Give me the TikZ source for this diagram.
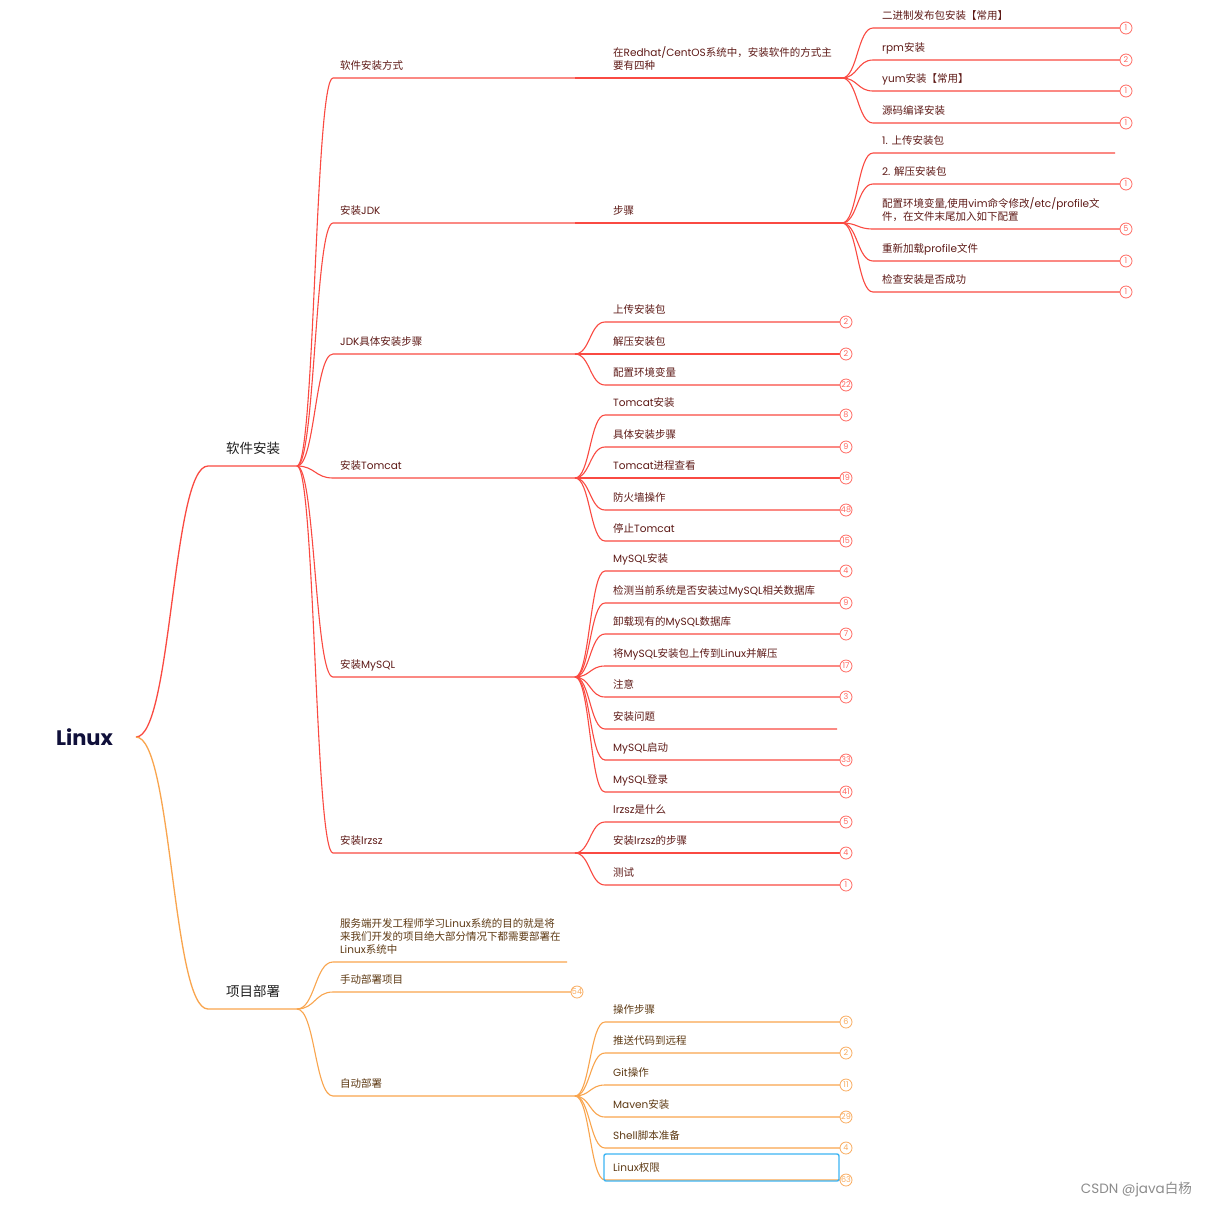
\documentclass[tikz,border=0pt]{standalone}
\usepackage{fontspec}
\setmainfont{Poppins}
\newfontfamily\cjk{Noto Sans CJK SC}
\usetikzlibrary{calc}
\XeTeXinterchartokenstate=1
\newXeTeXintercharclass\cjkcls
\newcount\cjkcnt
\def\setcjkrange#1#2{\cjkcnt=#1\relax\loop\XeTeXcharclass\cjkcnt=\cjkcls\relax\ifnum\cjkcnt<#2\relax\advance\cjkcnt by 1\repeat}
\setcjkrange{"3000}{"303F}
\setcjkrange{"4E00}{"9FFF}
\setcjkrange{"FF00}{"FFEF}
\XeTeXinterchartoks 0 \cjkcls = {\cjk}
\XeTeXinterchartoks 4095 \cjkcls = {\cjk}
\XeTeXinterchartoks \cjkcls 0 = {\rmfamily}
\XeTeXinterchartoks 4095 0 = {\rmfamily}

\definecolor{lred}{HTML}{FA4A42}
\definecolor{tred}{HTML}{5E1A17}
\definecolor{cred}{HTML}{FF6A62}
\definecolor{lora}{HTML}{F9A54E}
\definecolor{tora}{HTML}{5E3A14}
\definecolor{cora}{HTML}{F9AC5E}
\definecolor{selb}{HTML}{3DB5F3}
\definecolor{rootc}{HTML}{10103A}

\tikzset{
  redset/.style={conn/.style={draw=lred,line width=1.1pt},lt/.style={text=tred},cs/.style={draw=cred,text=cred}},
  oraset/.style={conn/.style={draw=lora,line width=1.1pt},lt/.style={text=tora},cs/.style={draw=cora,text=cora}},
  lbl/.style={anchor=south west,inner sep=0pt,text depth=0pt,align=left,font=\fontsize{10.5}{13}\selectfont,lt},
  lone/.style={anchor=south west,inner sep=0pt,text depth=0pt,font=\fontsize{13.5}{16}\selectfont,text=black!88},
  cnt/.style={circle,fill=white,inner sep=0pt,minimum size=12pt,line width=0.8pt,font=\fontsize{8}{8}\selectfont,cs},
  selbox/.style={draw=selb,line width=1.4pt,rounded corners=2pt},
}

\newcommand\branch[3]{\draw[conn] let \p1=(#1),\p2=(#2) in (\p1) .. controls ({(\x1+\x2)/2},\y1) and ({(\x1+\x2)/2},\y2) .. (\p2) -- (#3);}

\newcommand\leaf[8]{%
  \coordinate (#1s) at (#3,#5);
  \coordinate (#1e) at (#4,#5);
  \node[lbl] (#1) at (#6,#5-8) {#7};
  \branch{#2}{#1s}{#1e}%
  \if\relax\detokenize{#8}\relax\else\node[cnt] (#1c) at ($(#1e)+(6,0)$) {#8};\fi}

\begin{document}
\begin{tikzpicture}[x=1pt,y=-1pt]
\fill[white] (0,0) rectangle (1206,1208);
\useasboundingbox (0,0) rectangle (1206,1208);

\node[font=\fontsize{21}{24}\selectfont\bfseries,text=rootc,inner sep=0pt] (root) at (84.5,737) {Linux};
\coordinate (R) at (136,737);

\begin{scope}[redset]
\coordinate (s1s) at (208,466); \coordinate (s1e) at (297,466);
\node[lone] (s1) at (226,454) {软件安装};
\draw[conn,line width=1.3pt] let \p1=(R),\p2=(s1s) in (\p1) .. controls ({(\x1+\x2)/2},\y1) and ({(\x1+\x2)/2},\y2) .. (\p2) -- (s1e);

\leaf{a1}{s1e}{333}{575}{78}{340}{软件安装方式}{}
\leaf{a2}{s1e}{333}{575}{223}{340}{安装JDK}{}
\leaf{a3}{s1e}{333}{575}{354}{340}{JDK具体安装步骤}{}
\leaf{a4}{s1e}{333}{575}{478}{340}{安装Tomcat}{}
\leaf{a5}{s1e}{333}{575}{677}{340}{安装MySQL}{}
\leaf{a6}{s1e}{333}{575}{853}{340}{安装lrzsz}{}

\leaf{b1}{a1e}{605}{842}{78}{613}{在Redhat/CentOS系统中，安装软件的方式主\\要有四种}{}
\leaf{b2}{a2e}{605}{842}{223}{613}{步骤}{}

\leaf{b31}{a3e}{605}{840}{322}{613}{上传安装包}{2}
\leaf{b32}{a3e}{605}{840}{354}{613}{解压安装包}{2}
\leaf{b33}{a3e}{605}{840}{385}{613}{配置环境变量}{22}

\leaf{b41}{a4e}{605}{840}{415}{613}{Tomcat安装}{8}
\leaf{b42}{a4e}{605}{840}{447}{613}{具体安装步骤}{9}
\leaf{b43}{a4e}{605}{840}{478}{613}{Tomcat进程查看}{19}
\leaf{b44}{a4e}{605}{840}{510}{613}{防火墙操作}{48}
\leaf{b45}{a4e}{605}{840}{541}{613}{停止Tomcat}{15}

\leaf{b51}{a5e}{605}{840}{571}{613}{MySQL安装}{4}
\leaf{b52}{a5e}{605}{840}{603}{613}{检测当前系统是否安装过MySQL相关数据库}{9}
\leaf{b53}{a5e}{605}{840}{634}{613}{卸载现有的MySQL数据库}{7}
\leaf{b54}{a5e}{605}{840}{666}{613}{将MySQL安装包上传到Linux并解压}{17}
\leaf{b55}{a5e}{605}{840}{697}{613}{注意}{3}
\leaf{b56}{a5e}{605}{837}{729}{613}{安装问题}{}
\leaf{b57}{a5e}{605}{840}{760}{613}{MySQL启动}{33}
\leaf{b58}{a5e}{605}{840}{792}{613}{MySQL登录}{41}

\leaf{b61}{a6e}{605}{840}{822}{613}{lrzsz是什么}{5}
\leaf{b62}{a6e}{605}{840}{853}{613}{安装lrzsz的步骤}{4}
\leaf{b63}{a6e}{605}{840}{885}{613}{测试}{1}

\leaf{c11}{b1e}{873}{1120}{28}{882}{二进制发布包安装【常用】}{1}
\leaf{c12}{b1e}{873}{1120}{60}{882}{rpm安装}{2}
\leaf{c13}{b1e}{873}{1120}{91}{882}{yum安装【常用】}{1}
\leaf{c14}{b1e}{873}{1120}{123}{882}{源码编译安装}{1}

\leaf{c21}{b2e}{873}{1115}{153}{882}{1. 上传安装包}{}
\leaf{c22}{b2e}{873}{1120}{184}{882}{2. 解压安装包}{1}
\leaf{c23}{b2e}{873}{1120}{229}{882}{配置环境变量,使用vim命令修改/etc/profile文\\件，在文件末尾加入如下配置}{5}
\leaf{c24}{b2e}{873}{1120}{261}{882}{重新加载profile文件}{1}
\leaf{c25}{b2e}{873}{1120}{292}{882}{检查安装是否成功}{1}
\end{scope}

\begin{scope}[oraset]
\coordinate (s2s) at (208,1009); \coordinate (s2e) at (297,1009);
\node[lone] (s2) at (226,997) {项目部署};
\draw[conn,line width=1.3pt] let \p1=(R),\p2=(s2s) in (\p1) .. controls ({(\x1+\x2)/2},\y1) and ({(\x1+\x2)/2},\y2) .. (\p2) -- (s2e);

\leaf{d1}{s2e}{333}{567}{962}{340}{服务端开发工程师学习Linux系统的目的就是将\\来我们开发的项目绝大部分情况下都需要部署在\\Linux系统中}{}
\leaf{d2}{s2e}{333}{571}{992}{340}{手动部署项目}{54}
\leaf{d3}{s2e}{333}{575}{1096}{340}{自动部署}{}

\leaf{e1}{d3e}{605}{840}{1022}{613}{操作步骤}{6}
\leaf{e2}{d3e}{605}{840}{1053}{613}{推送代码到远程}{2}
\leaf{e3}{d3e}{605}{840}{1085}{613}{Git操作}{11}
\leaf{e4}{d3e}{605}{840}{1117}{613}{Maven安装}{29}
\leaf{e5}{d3e}{605}{840}{1148}{613}{Shell脚本准备}{4}
\leaf{e6}{d3e}{605}{840}{1180}{613}{Linux权限}{63}
\end{scope}
\draw[selbox] (604,1154) rectangle (839,1181);

\node[anchor=east,inner sep=0pt,text=black!45,font=\fontsize{13.5}{15}\selectfont] (wm) at (1192,1190) {CSDN @java白杨};
\end{tikzpicture}
\end{document}
